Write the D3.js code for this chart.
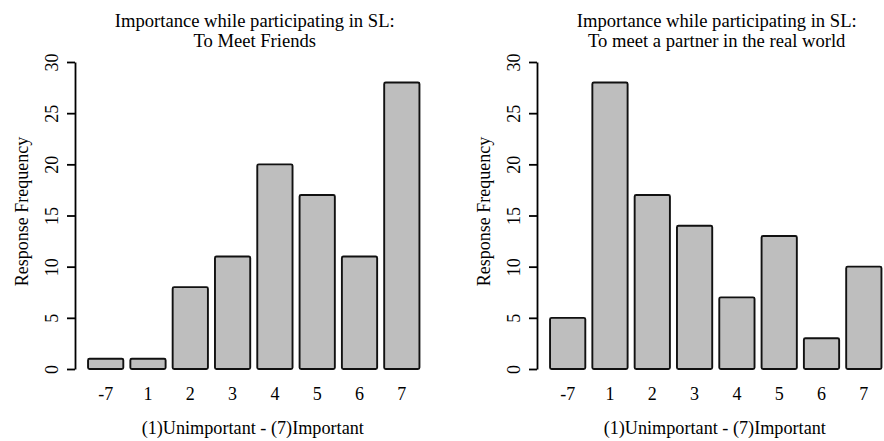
<!DOCTYPE html>
<html>
<head>
<meta charset="utf-8">
<script src="https://cdn.jsdelivr.net/npm/d3@7"></script>
<style>
  body { margin: 0; background: #fff; }
  svg text { font-family: "Liberation Serif", "DejaVu Serif", serif; fill: #000; }
</style>
</head>
<body>
<div id="chart"></div>
<script>
// response categories (as printed under the bars)
const categories = ["-7", "1", "2", "3", "4", "5", "6", "7"];
const friendsCounts = [1, 1, 8, 11, 20, 17, 11, 28];
const partnerCounts = [5, 28, 17, 14, 7, 13, 3, 10];
const yTicks = [0, 5, 10, 15, 20, 25, 30];

const titleLine1 = "Importance while participating in SL:";
const panels = [
    { subtitle: "To Meet Friends", values: friendsCounts, offset: 0 },
    { subtitle: "To meet a partner in the real world", values: partnerCounts, offset: 462 }
];

const width = 884, height = 441;

const svg = d3.select("#chart")
    .append("svg")
    .attr("width", width)
    .attr("height", height);

const y = d3.scaleLinear()
    .domain([0, 30])
    .range([369, 62]);

function drawPanel(p) {
    const g = svg.append("g")
        .attr("transform", `translate(${p.offset},0)`);

    const x = d3.scaleBand()
        .domain(categories)
        .range([81, 426.5])
        .paddingInner(1 / 6)
        .paddingOuter(1 / 6);

    const data = categories.map((c, i) => ({ cat: c, value: p.values[i] }));

    g.selectAll(".bar")
        .data(data)
      .enter().append("rect")
        .attr("class", "bar")
        .attr("x", d => x(d.cat))
        .attr("y", d => y(d.value))
        .attr("width", x.bandwidth())
        .attr("height", d => y(0) - y(d.value))
        .attr("rx", 1.5)
        .attr("fill", "#bebebe")
        .attr("stroke", "#111")
        .attr("stroke-width", 1.9);

    // y axis, R style: rotated labels, line only over tick range
    const yAxis = g.append("g")
        .attr("transform", "translate(75,0)")
        .call(d3.axisLeft(y).tickValues(yTicks).tickSize(8).tickSizeOuter(0).tickPadding(0));
    yAxis.select(".domain").attr("stroke-width", 1.8);
    yAxis.selectAll(".tick line").attr("stroke-width", 1.8);
    yAxis.selectAll(".tick text")
        .attr("x", 0).attr("dy", 0)
        .attr("transform", "translate(-17,0) rotate(-90)")
        .attr("text-anchor", "middle")
        .style("font-size", "18px")
        .style("font-family", "Liberation Serif");

    // category labels without an axis line
    g.selectAll(".xlab")
        .data(data)
      .enter().append("text")
        .attr("class", "xlab")
        .attr("x", d => x(d.cat) + x.bandwidth() / 2)
        .attr("y", 400)
        .attr("text-anchor", "middle")
        .style("font-size", "18px")
        .text(d => d.cat);

    const cx = (81 + 426.5) / 2;

    g.append("text")
        .attr("x", cx + 1)
        .attr("y", 27)
        .attr("text-anchor", "middle")
        .style("font-size", "18.6px")
        .text(titleLine1);

    g.append("text")
        .attr("x", cx + 1)
        .attr("y", 47)
        .attr("text-anchor", "middle")
        .style("font-size", "18.6px")
        .text(p.subtitle);

    g.append("text")
        .attr("x", cx - 1)
        .attr("y", 434)
        .attr("text-anchor", "middle")
        .style("font-size", "18.2px")
        .text("(1)Unimportant - (7)Important");

    g.append("text")
        .attr("transform", `translate(28,${(y(0) + y(30)) / 2 - 4}) rotate(-90)`)
        .attr("text-anchor", "middle")
        .style("font-size", "18px")
        .text("Response Frequency");
}

panels.forEach(drawPanel);
</script>
</body>
</html>
